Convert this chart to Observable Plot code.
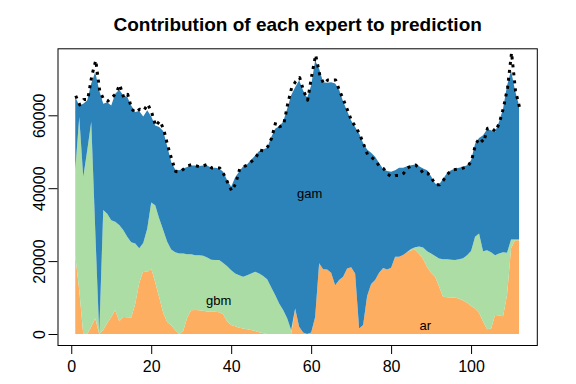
<!DOCTYPE html>
<html>
<head>
<meta charset="utf-8">
<script src="https://cdn.jsdelivr.net/npm/d3@7"></script>
<script src="https://cdn.jsdelivr.net/npm/@observablehq/plot@0.6"></script>
<style>
  html, body { margin: 0; padding: 0; background: #fff; }
  #chart svg { display: block; }
</style>
</head>
<body>
<div id="chart"></div>
<script>
const title = "Contribution of each expert to prediction";
const experts = ["ar", "gbm", "gam"];
const colors = ["#FDAE61", "#ABDDA4", "#2B83BA"];
const time = d3.range(1, 113);

const ar = [21600,12000,0,0,2000,4300,0,1100,3000,4700,6600,3500,4700,4600,4500,8300,14000,17300,17000,18000,
  14200,10000,5800,3300,2400,1100,0,800,4500,6500,6600,6500,6400,6200,6100,6100,6000,5400,3400,2500,
  2100,1700,1500,1300,1100,800,500,200,0,0,0,0,0,0,0,7000,2000,400,0,400,
  4700,19400,17800,17700,16800,13400,14800,15700,18000,18300,16600,1500,2500,10400,13700,14800,16800,18100,17700,18200,
  21200,21200,21700,22500,23000,23100,22000,20600,18400,16800,15700,13000,10200,10100,10000,10000,9700,9200,8600,7700,
  7000,5800,3400,1300,1500,5200,5100,4900,10700,23500,25700,25700];

const gbm = [23400,47500,43100,50400,56200,24200,0,32900,30000,26500,24200,26400,23800,22100,20700,16500,9500,7700,11900,18100,
  21100,21700,22700,22000,20800,21300,22100,21300,17400,15400,15000,15100,15100,14800,14300,14200,14300,14100,15200,15000,
  14500,14400,14200,14800,15500,16300,16100,15700,15000,12800,10700,8400,6600,4300,1100,0,0,0,0,0,
  0,0,0,0,0,0,0,0,0,0,0,0,0,0,0,0,0,0,0,0,
  0,0,0,0,300,700,2000,3100,4300,5300,5700,7700,10300,10400,10400,10300,10800,11600,13000,15100,
  19700,21800,19300,21700,20900,16400,17000,17500,11600,2400,200,200];

const gam = [20000,3200,20100,13700,10500,43400,66800,29200,30600,31500,35100,37100,37000,38300,37500,36100,37700,34700,32500,23600,
  21900,25100,27200,26200,24000,22700,22800,23300,23900,24300,24600,24500,24700,25200,25200,25300,25100,25000,23600,22900,
  26400,28500,30300,30500,31200,31900,33600,34700,36100,41200,45600,48600,51600,57500,64400,60700,67600,66400,64800,67800,
  70300,53400,51300,51200,52300,55300,52200,48100,43200,40300,40200,53500,49900,40200,36000,33800,30100,27200,27000,26300,
  23700,24400,23900,23500,23000,22700,22000,21700,22200,21200,19900,20300,22100,23700,24500,25100,25100,25100,24700,24900,
  25500,26200,31800,33200,33500,33800,36100,39400,45900,46400,40900,36800];

const observed = [65500,63000,64500,64500,70900,75200,66800,64500,64000,65000,66000,68500,65000,65900,61800,60900,61800,61400,63200,60900,
  57200,58600,56300,51800,48100,44700,44600,45400,46300,46600,46300,46000,46300,46700,45700,45700,45700,44000,41700,39400,
  41400,45400,46000,46600,47500,48400,50600,50400,51500,53900,58200,57000,57500,63200,67700,69400,70500,66800,64300,70900,
  76700,71400,68800,69800,69800,69800,66800,64300,61500,58600,57000,55000,52200,49300,48600,47700,46000,45500,44000,43300,
  43600,43600,44200,45700,46300,46500,45600,44100,44300,42900,41100,41100,42400,44000,45100,45300,45500,45700,46000,47700,
  52200,53900,52700,56600,56600,55700,58200,62300,67700,77300,66800,62300];

const xTicks = [0, 20, 40, 60, 80, 100];
const yTicks = [0, 20000, 40000, 60000];

const seriesLabels = ["gam", "gbm", "ar"];
const labelX = [59.5, 36.75, 88.4];
const labelY = [38600, 9300, 2500];

// long table for stacking
const series = { ar, gbm, gam };
const long = [];
for (const e of experts) {
  series[e].forEach((v, i) => long.push({ t: time[i], expert: e, value: v }));
}
const obs = time.map((t, i) => ({ t, value: observed[i] }));
const labels = seriesLabels.map((s, i) => ({ s, x: labelX[i], y: labelY[i] }));

const chart = Plot.plot({
  width: 576,
  height: 384,
  marginLeft: 57.5,
  marginRight: 39.2,
  marginTop: 48.3,
  marginBottom: 39,
  style: { fontFamily: "'Liberation Sans', Arial, sans-serif", background: "#fff", color: "#000" },
  x: { domain: [-3.44, 116.44] },
  y: { domain: [-3015, 78380] },
  color: { domain: experts, range: colors },
  marks: [
    Plot.areaY(long, { x: "t", y: "value", fill: "expert", order: experts, curve: "linear" }),
    Plot.line(obs, { x: "t", y: "value", stroke: "#000", strokeWidth: 3, strokeDasharray: "3,5", strokeLinecap: "butt" }),
    Plot.text(labels, { x: "x", y: "y", text: "s", fontSize: 13, fill: "#000", textAnchor: "middle", lineAnchor: "middle" }),
    Plot.frame({ stroke: "#000", strokeWidth: 1 }),
    Plot.axisX({ ticks: xTicks, tickSize: 9, tickFormat: () => "", label: null, stroke: "#000" }),
    Plot.axisY({ ticks: yTicks, tickSize: 9, tickFormat: () => "", label: null, stroke: "#000" }),
    Plot.text(xTicks, { x: d => d, text: d => String(d), frameAnchor: "bottom", dy: 21, fontSize: 16, lineAnchor: "middle", textAnchor: "middle", fill: "#000" }),
    Plot.text(yTicks, { y: d => d, text: d => String(d), frameAnchor: "left", dx: -18, rotate: -90, fontSize: 16, lineAnchor: "middle", textAnchor: "middle", fill: "#000" }),
    Plot.text([title], { text: d => d, frameAnchor: "top", dy: -23.5, fontSize: 19, fontWeight: "bold", lineAnchor: "middle", textAnchor: "middle", fill: "#000" })
  ]
});
document.getElementById("chart").appendChild(chart);
</script>
</body>
</html>
